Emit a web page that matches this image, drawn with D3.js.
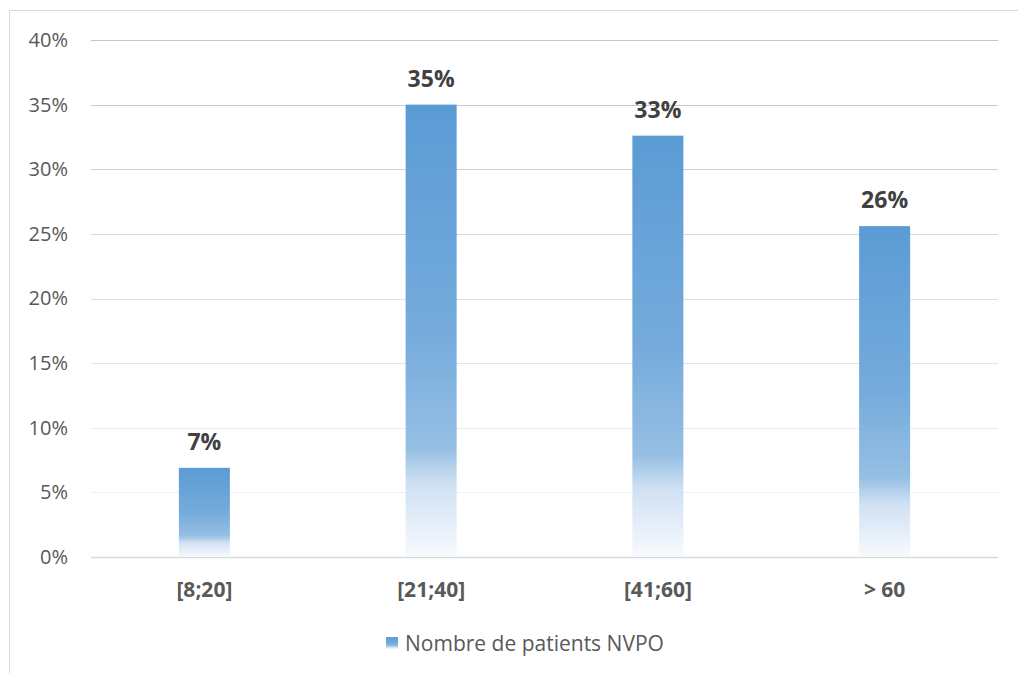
<!DOCTYPE html>
<html>
<head>
<meta charset="utf-8">
<script src="https://cdn.jsdelivr.net/npm/d3@7/dist/d3.min.js"></script>
<style>
  html, body { margin: 0; padding: 0; background: #fff; }
  svg { display: block; font-family: "Open Sans", Lato, sans-serif; }
</style>
</head>
<body>
<svg id="chart" width="1018" height="673"></svg>
<script>
// Age groups and share of patients with NVPO
const categories = ["[8;20]", "[21;40]", "[41;60]", "> 60"];
const values = [0.069, 0.35, 0.326, 0.256];
const yTicks = [0, 0.05, 0.10, 0.15, 0.20, 0.25, 0.30, 0.35, 0.40];
const seriesName = "Nombre de patients NVPO";

const svg = d3.select("#chart");
const W = 1018, H = 673;
const plot = { left: 91, right: 998, top: 40, bottom: 557 };
const FONT = "'Open Sans', Lato, sans-serif";

// Chart frame
svg.append("rect")
  .attr("x", 9.5).attr("y", 10.5)
  .attr("width", W + 20).attr("height", H + 20)
  .attr("fill", "#fff").attr("stroke", "#d9d9d9").attr("stroke-width", 1);

// Bar fill: accent blue fading to white toward the base
const defs = svg.append("defs");
const grad = defs.append("linearGradient")
  .attr("id", "barFill")
  .attr("x1", 0).attr("y1", 0).attr("x2", 0).attr("y2", 1);
[[0, "#5b9bd5"], [0.5, "#75abdc"], [0.76, "#96bfe4"], [0.84, "#d0e1f3"], [1, "#f7fafd"]]
  .forEach(([o, c]) => grad.append("stop").attr("offset", o).attr("stop-color", c));

const x = d3.scaleBand()
  .domain(categories)
  .range([plot.left, plot.right])
  .paddingInner(0.775)
  .paddingOuter(0.3875);

const y = d3.scaleLinear()
  .domain([0, 0.40])
  .range([plot.bottom, plot.top]);

// Horizontal gridlines, lighter toward the bottom
const gridColor = d3.scaleLinear().domain([0.05, 0.40]).range(["#f1f1f1", "#c4c4c4"]);
svg.append("g")
  .selectAll("line")
  .data(yTicks)
  .join("line")
  .attr("x1", plot.left).attr("x2", plot.right)
  .attr("y1", d => Math.round(y(d)) + 0.5)
  .attr("y2", d => Math.round(y(d)) + 0.5)
  .attr("stroke", d => d === 0 ? "#d9d9d9" : gridColor(d))
  .attr("stroke-width", d => d === 0 ? 1.5 : 1.2);

// Y axis labels
const yAxis = d3.axisLeft(y)
  .tickValues(yTicks)
  .tickFormat(d3.format(".0%"))
  .tickSize(0)
  .tickPadding(0);
const gy = svg.append("g")
  .attr("transform", `translate(68,0)`)
  .call(yAxis);
gy.select(".domain").remove();
gy.selectAll("text")
  .attr("fill", "#595959")
  .attr("font-size", 20)
  .attr("font-family", FONT);

// Bars
svg.append("g")
  .selectAll("rect")
  .data(values)
  .join("rect")
  .attr("x", (d, i) => x(categories[i]))
  .attr("y", d => y(d))
  .attr("width", x.bandwidth())
  .attr("height", d => y(0) - y(d))
  .attr("fill", "url(#barFill)");

// Value labels
const fmt = d3.format(".0%");
svg.append("g")
  .selectAll("text")
  .data(values)
  .join("text")
  .attr("x", (d, i) => x(categories[i]) + x.bandwidth() / 2)
  .attr("y", d => y(d) - 18)
  .attr("text-anchor", "middle")
  .attr("font-size", 23)
  .attr("font-weight", "bold")
  .attr("fill", "#404040")
  .text(d => fmt(d));

// Category axis labels
const xAxis = d3.axisBottom(x).tickSize(0).tickPadding(0);
const gx = svg.append("g")
  .attr("transform", `translate(0,${plot.bottom + 25})`)
  .call(xAxis);
gx.select(".domain").remove();
gx.selectAll("text")
  .attr("fill", "#595959")
  .attr("font-size", 21)
  .attr("font-weight", "bold")
  .attr("font-family", FONT);

// Legend
const legend = svg.append("g").attr("transform", "translate(386,637)");
legend.append("rect")
  .attr("width", 12).attr("height", 12)
  .attr("fill", "url(#barFill)");
legend.append("text")
  .attr("x", 19).attr("y", 14)
  .attr("font-size", 21)
  .attr("fill", "#595959")
  .text(seriesName);
</script>
</body>
</html>
